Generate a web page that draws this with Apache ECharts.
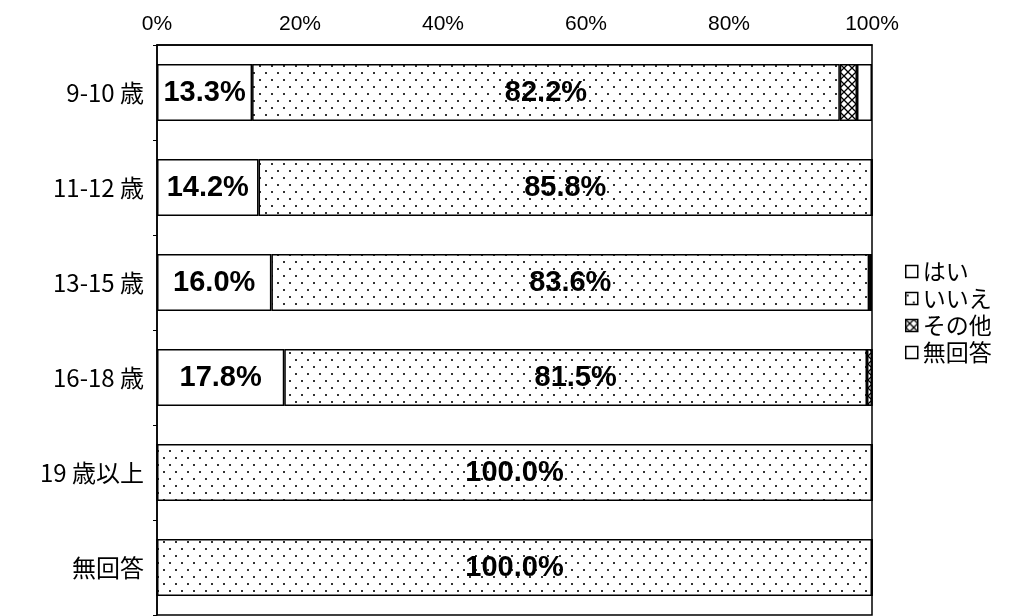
<!DOCTYPE html>
<html>
<head>
<meta charset="utf-8">
<script src="https://cdn.jsdelivr.net/npm/echarts@6/dist/echarts.min.js"></script>
<style>
html, body { margin: 0; padding: 0; background: #fff; }
#main { width: 1011px; height: 616px; }
</style>
</head>
<body>
<div id="main"></div>
<script>
const categories = ['9-10 歳', '11-12 歳', '13-15 歳', '16-18 歳', '19 歳以上', '無回答'];
const seriesNames = ['はい', 'いいえ', 'その他', '無回答'];
const yesValues = [13.3, 14.2, 16.0, 17.8, 0, 0];
const noValues = [82.2, 85.8, 83.6, 81.5, 100.0, 100.0];
const otherValues = [2.4, 0, 0, 0.7, 0, 0];
const noAnswerValues = [2.1, 0, 0.4, 0, 0, 0];
const xTicks = [0, 20, 40, 60, 80, 100];

// fill patterns
function dotPattern() {
    const c = document.createElement('canvas');
    c.width = 12; c.height = 14;
    const ctx = c.getContext('2d');
    ctx.fillStyle = '#fff';
    ctx.fillRect(0, 0, 12, 14);
    ctx.fillStyle = '#333';
    ctx.fillRect(1, 2, 2, 2);
    ctx.fillRect(7, 9, 2, 2);
    return c;
}
function crossPattern() {
    const c = document.createElement('canvas');
    c.width = 8; c.height = 8;
    const ctx = c.getContext('2d');
    ctx.fillStyle = '#fff';
    ctx.fillRect(0, 0, 8, 8);
    ctx.strokeStyle = '#000';
    ctx.lineWidth = 1.3;
    ctx.beginPath();
    ctx.moveTo(0, 0); ctx.lineTo(8, 8);
    ctx.moveTo(8, 0); ctx.lineTo(0, 8);
    ctx.stroke();
    return c;
}

const fills = [
    '#fff',
    { image: dotPattern(), repeat: 'repeat' },
    { image: crossPattern(), repeat: 'repeat' },
    '#fff'
];
const values = [yesValues, noValues, otherValues, noAnswerValues];

const myChart = echarts.init(document.getElementById('main'));

const series = seriesNames.map(function (name, i) {
    return {
        name: name,
        type: 'bar',
        stack: 'total',
        barWidth: 57,
        itemStyle: {
            color: fills[i],
            borderColor: '#000',
            borderWidth: 1.5
        },
        label: {
            show: i < 2,
            position: 'inside',
            color: '#000',
            fontFamily: 'Liberation Sans, Arial, sans-serif',
            fontWeight: 'bold',
            fontSize: 29,
            formatter: function (p) {
                return p.value > 0 ? p.value.toFixed(1) + '%' : '';
            }
        },
        emphasis: { disabled: true },
        data: values[i]
    };
});

const option = {
    animation: false,
    grid: {
        left: 157,
        right: 139,
        top: 45,
        height: 570,
        show: true,
        borderColor: '#000',
        borderWidth: 1.5
    },
    legend: {
        orient: 'vertical',
        left: 900,
        top: 255,
        itemWidth: 12,
        itemHeight: 12,
        itemGap: 4,
        icon: 'rect',
        data: seriesNames,
        itemStyle: { borderColor: '#000', borderWidth: 1.5 },
        textStyle: {
            fontFamily: 'Noto Sans CJK JP',
            fontSize: 23,
            lineHeight: 23,
            color: '#000'
        }
    },
    xAxis: {
        type: 'value',
        position: 'top',
        min: 0,
        max: 100,
        interval: 20,
        axisLine: { show: true, lineStyle: { color: '#000', width: 1.5 } },
        axisTick: { show: false },
        splitLine: { show: false },
        axisLabel: {
            margin: 10,
            color: '#000',
            fontFamily: 'Liberation Sans, sans-serif',
            fontSize: 21,
            formatter: function (v) {
                return xTicks.indexOf(v) >= 0 ? v + '%' : '';
            }
        }
    },
    yAxis: {
        type: 'category',
        inverse: true,
        data: categories,
        axisLine: { show: true, lineStyle: { color: '#000', width: 1.5 } },
        axisTick: { show: true, length: 4, lineStyle: { color: '#000' } },
        axisLabel: {
            margin: 13,
            color: '#000',
            fontFamily: 'Noto Sans CJK JP',
            fontSize: 24
        }
    },
    series: series
};

myChart.setOption(option);
</script>
</body>
</html>
